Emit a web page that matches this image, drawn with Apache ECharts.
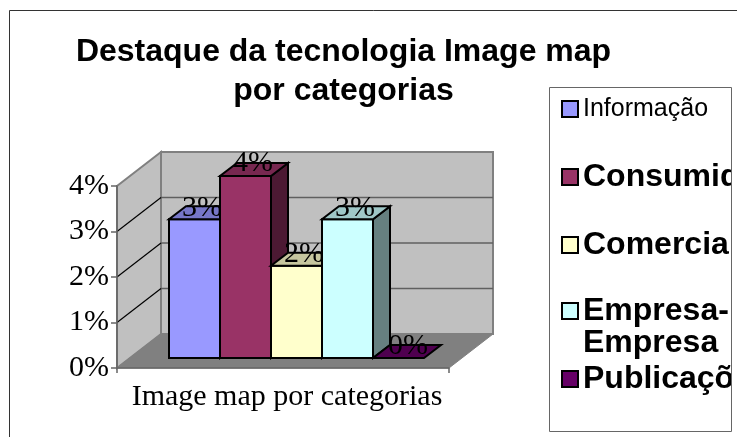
<!DOCTYPE html>
<html><head><meta charset="utf-8">
<style>html,body{margin:0;padding:0;background:#fff}#c{width:737px;height:437px}</style>
<script src="https://cdn.jsdelivr.net/npm/echarts@6/dist/echarts.min.js"></script>
</head><body><div id="c"></div>
<script>
const categories = ['Image map por categorias'];
const seriesNames = ['Informação', 'Consumidor', 'Comercial', 'Empresa-Empresa', 'Publicações'];
const values = [3.05, 4.0, 2.03, 3.05, 0];
const colors = ['#9999FF', '#993366', '#FFFFCC', '#CCFFFF', '#660066'];
const topColors = ['#7777C7', '#772850', '#C7C79F', '#9FC7C7', '#4F004F'];
const sideColors = ['#4C4C80', '#4C1933', '#808066', '#668080', '#330033'];
const yTicks = [0, 1, 2, 3, 4];
const titleLines = ['Destaque da tecnologia Image map', 'por categorias'];
const legendTops = [93, 161, 229, 263, 363];

const SERIF = '"Liberation Serif","Times New Roman",serif';
const SANS = '"Liberation Sans",Arial,sans-serif';
const depthX = 44, depthY = 34;       // wall depth
const floorX = 13.5, floorY = 10;     // how far the bars sit behind the front edge
const barDX = 17, barDY = 13;         // bar depth
const barShare = 51 / 332;            // bar width as a share of the category band

function wallItem(params, api) {
  const cs = params.coordSys;
  const L = cs.x, R = cs.x + cs.width, B = cs.y + cs.height;
  const els = [];
  const yTop = api.coord([0, yTicks[yTicks.length - 1]])[1];
  const wall = { stroke: '#808080', lineWidth: 2 };
  els.push({ type: 'polygon', shape: { points: [[L + depthX, yTop - depthY], [R + depthX, yTop - depthY], [R + depthX, B - depthY], [L + depthX, B - depthY]] }, style: { fill: '#C0C0C0', ...wall } });
  els.push({ type: 'polygon', shape: { points: [[L, yTop], [L + depthX, yTop - depthY], [L + depthX, B - depthY], [L, B]] }, style: { fill: '#C0C0C0', ...wall } });
  yTicks.slice(1, -1).forEach(t => {
    const y = api.coord([0, t])[1];
    els.push({ type: 'line', shape: { x1: L + depthX, y1: y - depthY, x2: R + depthX, y2: y - depthY }, style: { stroke: '#606060', lineWidth: 1.6 } });
    els.push({ type: 'line', shape: { x1: L, y1: y, x2: L + depthX, y2: y - depthY }, style: { stroke: '#000000', lineWidth: 1.2 } });
  });
  els.push({ type: 'polygon', shape: { points: [[L, B], [R, B], [R + depthX, B - depthY], [L + depthX, B - depthY]] }, style: { fill: '#808080', stroke: '#808080', lineWidth: 1 } });
  return { type: 'group', children: els };
}

function barItem(index) {
  return function (params, api) {
    const cs = params.coordSys;
    const v = api.value(1);
    const bw = cs.width * barShare;
    const gap = (cs.width - bw * seriesNames.length) / 2;
    const x0 = cs.x + floorX + gap + index * bw;
    const x1 = x0 + bw;
    const yB = api.coord([0, 0])[1] - floorY;
    const yT = api.coord([0, v])[1] - floorY;
    const line = { stroke: '#000', lineWidth: 2, lineJoin: 'miter' };
    const els = [];
    if (v > 0) {
      els.push({ type: 'polygon', shape: { points: [[x1, yT], [x1 + barDX, yT - barDY], [x1 + barDX, yB - barDY], [x1, yB]] }, style: { fill: sideColors[index], ...line } });
      els.push({ type: 'polygon', shape: { points: [[x0, yT], [x1, yT], [x1, yB], [x0, yB]] }, style: { fill: colors[index], ...line } });
    }
    els.push({ type: 'polygon', shape: { points: [[x0, yT], [x1, yT], [x1 + barDX, yT - barDY], [x0 + barDX, yT - barDY]] }, style: { fill: topColors[index], ...line } });
    els.push({ type: 'text', z2: 100, style: { text: Math.round(v) + '%', x: (x0 + x1) / 2 + barDX / 2 - (v > 0 ? 1 : -1), y: yT - barDY / 2 - (v > 3.5 ? 6 : 5), align: 'center', verticalAlign: 'middle', fill: '#000', font: '30px ' + SERIF } });
    return { type: 'group', children: els };
  };
}

const chart = echarts.init(document.getElementById('c'), null, { renderer: 'canvas' });
chart.setOption({
  animation: false,
  backgroundColor: '#fff',
  title: {
    text: titleLines.join('\n'), left: 338.5, top: 28, textAlign: 'center',
    textStyle: { fontFamily: SANS, fontWeight: 'bold', fontSize: 32, lineHeight: 39, color: '#000' }
  },
  legend: seriesNames.map((n, i) => ({
    data: [n], left: 561, top: legendTops[i], orient: 'vertical', selectedMode: false,
    icon: 'rect', itemWidth: 16, itemHeight: 16, itemGap: 0, padding: 0,
    itemStyle: { borderColor: '#000', borderWidth: 2 },
    formatter: nm => nm === 'Empresa-Empresa' ? ' \nEmpresa-\nEmpresa' : nm,
    textStyle: { fontFamily: SANS, fontWeight: i === 0 ? 'normal' : 'bold', fontSize: i === 0 ? 25 : 32, lineHeight: 32, color: '#000', padding: [0, 0, 0, 0] }
  })),
  grid: { left: 117, top: 186, right: 288, bottom: 69, containLabel: false },
  xAxis: {
    type: 'category', data: categories, z: 1,
    axisLine: { lineStyle: { color: '#666', width: 1.5 } },
    axisTick: { show: true, length: 5, lineStyle: { color: '#666', width: 1.5 } },
    axisLabel: { fontFamily: SERIF, fontSize: 30, color: '#000', margin: 14, padding: [0, 0, 0, 8] }
  },
  yAxis: {
    type: 'value', min: yTicks[0], max: yTicks[yTicks.length - 1], interval: 1, z: 1,
    axisLine: { show: true, lineStyle: { color: '#666', width: 1.5 } },
    axisTick: { show: true, length: 6, lineStyle: { color: '#666', width: 1.5 } },
    axisLabel: { formatter: '{value}%', fontFamily: SERIF, fontSize: 30, color: '#000', margin: 8, padding: [6, 0, 0, 0] },
    splitLine: { show: false }
  },
  series: [
    { type: 'custom', z: 0, silent: true, clip: false, renderItem: wallItem, data: [[0, 0]], encode: { x: 0, y: 1 } }
  ].concat(seriesNames.map((n, i) => ({
    type: 'custom', name: n, z: 2, clip: false, color: colors[i], renderItem: barItem(i),
    data: [[0, values[i]]], encode: { x: 0, y: 1 }
  }))),
  graphic: { elements: [
    { type: 'rect', z: 10, shape: { x: 732, y: 88, width: 5, height: 344 }, style: { fill: '#fff' } },
    { type: 'rect', z: 11, shape: { x: 549.5, y: 87.5, width: 182, height: 344 }, style: { fill: 'transparent', stroke: '#666', lineWidth: 1 } },
    { type: 'polyline', z: 11, shape: { points: [[9.5, 437], [9.5, 10.5], [737, 10.5]] }, style: { fill: 'none', stroke: '#333', lineWidth: 1 } }
  ] }
});
</script></body></html>
